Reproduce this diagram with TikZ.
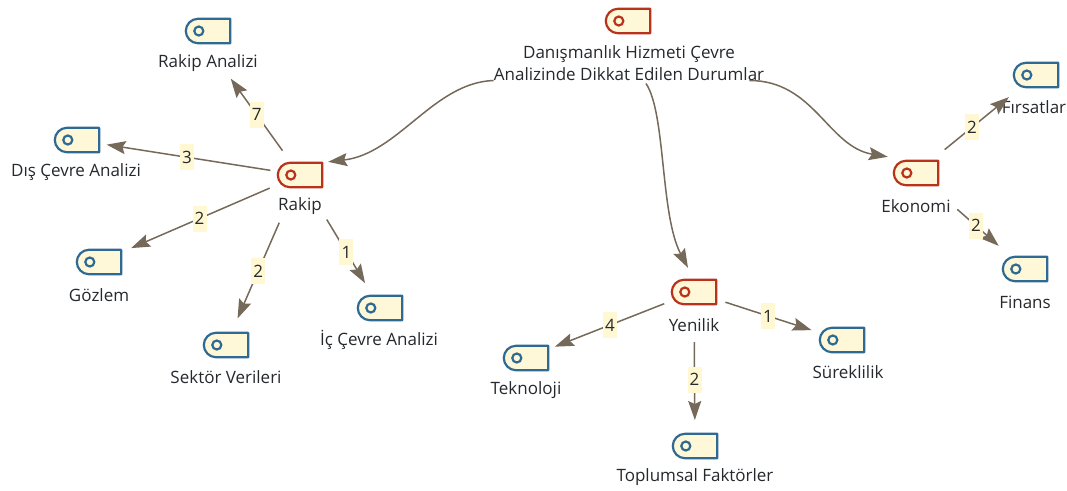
\documentclass[tikz,border=0pt]{standalone}
\usepackage{fontspec}
\setmainfont{Open Sans}
\usetikzlibrary{calc,arrows.meta}
\definecolor{edgec}{HTML}{75695A}
\definecolor{redc}{HTML}{B9321C}
\definecolor{bluec}{HTML}{2F6A92}
\definecolor{fillc}{HTML}{FFF8D8}
\definecolor{labc}{HTML}{FFF8D2}
\definecolor{txtc}{HTML}{25282C}
\tikzset{
  x=1pt,y=-1pt,
  iconbox/.style={minimum width=46pt,minimum height=26pt,inner sep=0pt},
  icontxt/.style={font=\fontsize{17}{21.5}\selectfont,text=txtc,align=center,inner sep=0pt},
  conn/.style={draw=edgec,line width=1.5pt,-{Stealth[length=19pt,width=13pt,inset=3pt]}},
  elabel/.style={fill=labc,text=txtc,font=\fontsize{17}{20}\selectfont,inner sep=0pt,minimum width=14pt,minimum height=26pt},
}
% name, x, y, colour, label, label x, label y
\newcommand{\tagnode}[7]{%
  \node[iconbox] (#1) at (#2,#3) {};
  \draw[#4,line width=2.2pt,fill=fillc,line join=round]
    ($(#1.north west)+(13,1)$) -- ($(#1.north east)+(-1,1)$) -- ($(#1.south east)+(-1,-1)$)
    -- ($(#1.south west)+(13,-1)$) .. controls +(-6.6,0) and +(0,6.6) .. ($(#1.west)+(1,0)$)
    .. controls +(0,-6.6) and +(-6.6,0) .. ($(#1.north west)+(13,1)$) -- cycle;
  \draw[#4,line width=2.2pt,fill=fillc] ($(#1.west)+(14,0)$) circle[radius=4.5];
  \node[icontxt] (#1-t) at (#6,#7) {#5};
  \coordinate (#1-c) at ($(#1)!.5!(#1-t)$);
}
% from, to, shorten start, shorten end, label, label position
\newcommand{\spoke}[6]{%
  \draw[conn,shorten <=#3pt,shorten >=#4pt] (#1.center) -- (#2.center)
    node[elabel,pos=#6] {#5};
}
\begin{document}
\begin{tikzpicture}
\useasboundingbox (0,0) rectangle (1067,490);
\tagnode{root}{628}{21}{redc}{Danışmanlık Hizmeti Çevre\\Analizinde Dikkat Edilen Durumlar}{629}{63}
\tagnode{rakip}{300}{175}{redc}{Rakip}{300}{206}
\tagnode{ekonomi}{916}{173}{redc}{Ekonomi}{916}{206}
\tagnode{yenilik}{694}{292}{redc}{Yenilik}{694}{325}
\tagnode{ra}{208}{31}{bluec}{Rakip Analizi}{208}{63}
\tagnode{dis}{77}{140}{bluec}{Dış Çevre Analizi}{76}{172}
\tagnode{goz}{99}{262}{bluec}{Gözlem}{99}{295}
\tagnode{sek}{226}{345}{bluec}{Sektör Verileri}{226}{377}
\tagnode{ic}{380}{308}{bluec}{İç Çevre Analizi}{379}{340}
\tagnode{fir}{1036}{75}{bluec}{Fırsatlar}{1034}{107}
\tagnode{fin}{1025}{269}{bluec}{Finans}{1025}{302}
\tagnode{tek}{526}{358}{bluec}{Teknoloji}{526}{390}
\tagnode{sur}{842}{340}{bluec}{Süreklilik}{848}{372}
\tagnode{top}{695}{446}{bluec}{Toplumsal Faktörler}{695}{477}

\spoke{rakip}{ra-c}{30}{39}{7}{.47}
\spoke{rakip}{dis}{30}{30}{3}{.507}
\spoke{rakip}{goz}{33}{35}{2}{.5}
\spoke{rakip}{sek}{52}{29}{2}{.565}
\spoke{rakip}{ic}{52}{29}{1}{.58}
\spoke{yenilik}{tek}{32}{31}{4}{.5}
\spoke{yenilik}{sur}{33}{32}{1}{.5}
\spoke{yenilik}{top}{50}{26}{2}{.57}
\spoke{ekonomi}{fir}{37}{35}{2}{.467}
\spoke{ekonomi}{fin}{55}{35}{2}{.55}

\draw[conn] (root-t.south west) .. controls +(-60,2) and +(70,-8) .. ($(rakip.north east)+(5,0)$);
\draw[conn] ($(root-t.south)+(17,3)$) .. controls +(20,30) and +(-28,-53) .. ($(yenilik.north)+(-6,-11)$);
\draw[conn] ($(root-t.south east)+(-15,0)$) .. controls +(65,0) and +(-60,-10) .. ($(ekonomi.north west)+(-5,-3)$);
\end{tikzpicture}
\end{document}
